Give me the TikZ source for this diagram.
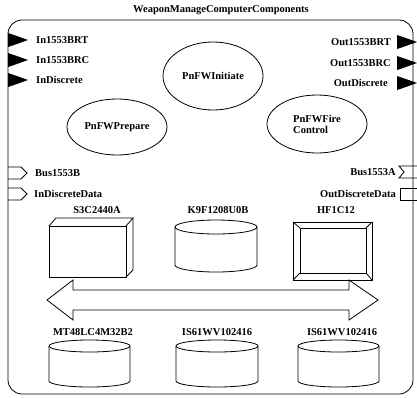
\documentclass[tikz,border=0pt]{standalone}
\usepackage{fontspec}
\setmainfont{Liberation Serif}
\usetikzlibrary{shapes.geometric}
\begin{document}
\begin{tikzpicture}[x=1pt,y=-1pt,
  lbl/.style={font=\fontsize{10.5}{11}\selectfont\bfseries, inner sep=0pt},
  ln/.style={draw=black, line width=0.8pt},
  state/.style={ln, ellipse, lbl, inner sep=0pt},
]
\useasboundingbox (0,0) rectangle (417,397);
\fill[white] (0,0) rectangle (417,397);
\node[lbl] (title) at (221,10) {WeaponManageComputerComponents};
\draw[ln, rounded corners=14pt] (8,20) rectangle (413,394);
% black input ports
\foreach \y in {40,60,80}
  \fill (8,\y-7) -- (14,\y-5) -- (28,\y) -- (14,\y+5) -- (8,\y+7) -- cycle;
\node[lbl, anchor=west] (in1) at (36,40) {In1553BRT};
\node[lbl, anchor=west] (in2) at (36,60) {In1553BRC};
\node[lbl, anchor=west] (in3) at (36,80) {InDiscrete};
% black output ports
\foreach \y in {42,63,83}
  \fill (397,\y-7) -- (403,\y-5) -- (417,\y) -- (403,\y+5) -- (397,\y+7) -- cycle;
\node[lbl, anchor=east] (out1) at (391,42) {Out1553BRT};
\node[lbl, anchor=east] (out2) at (391,63) {Out1553BRC};
\node[lbl, anchor=east] (out3) at (388,83) {OutDiscrete};
% hollow ports
\draw[ln] (8,167) -- (21,167) -- (27,173) -- (21,179) -- (8,179);
\draw[ln] (8,188) -- (21,188) -- (27,194) -- (21,200) -- (8,200);
\node[lbl, anchor=west] (bus1) at (35,173) {Bus1553B};
\node[lbl, anchor=west] (ind) at (34,194) {InDiscreteData};
\draw[ln] (417,166) -- (399,166) -- (404,172) -- (399,178) -- (417,178);
\draw[ln] (417,188) -- (400,188) -- (400,200) -- (417,200);
\node[lbl, anchor=east] (bus2) at (396,172) {Bus1553A};
\node[lbl, anchor=east] (outd) at (396,194) {OutDiscreteData};
% states
\node[state, minimum width=100pt, minimum height=68pt] (init) at (213,76) {PnFWInitiate};
\node[state, minimum width=100pt, minimum height=56pt] (prep) at (117,127) {PnFWPrepare};
\node[state, minimum width=100pt, minimum height=58pt, align=left] (fire) at (317,124) {PnFWFire\\Control};
% components
\node[lbl] (s3c) at (97,210) {S3C2440A};
\node[lbl] (k9f) at (218,210) {K9F1208U0B};
\node[lbl] (hf) at (336,210) {HF1C12};
\draw[ln] (49,226) rectangle (126,277);
\draw[ln] (49,226) -- (56,218) -- (133,218) -- (126,226);
\draw[ln] (126,277) -- (133,270) -- (133,218);
\draw[ln] (216,227) ellipse [x radius=41pt, y radius=7pt];
\draw[ln] (175,227) -- (175,265) arc[start angle=180, end angle=360, x radius=41pt, y radius=7pt] -- (257,227);
\draw[ln] (293,222) rectangle (372,280);
\draw[ln] (300,228) rectangle (366,273);
\draw[ln] (293,222) -- (300,228) (372,222) -- (366,228) (293,280) -- (300,273) (372,280) -- (366,273);
% bus
\draw[ln] (47,300) -- (73,280) -- (73,290) -- (349,290) -- (349,280) -- (378,300) -- (349,320) -- (349,310) -- (73,310) -- (73,320) -- cycle;
% memories
\node[lbl] (mt) at (93,332) {MT48LC4M32B2};
\node[lbl] (is1) at (217,332) {IS61WV102416};
\node[lbl] (is2) at (342,332) {IS61WV102416};
\foreach \cx/\r in {89.5/40.5, 217/41, 338.5/40.5} {
  \draw[ln] (\cx,346) ellipse [x radius=\r pt, y radius=6pt];
  \draw[ln] (\cx-\r,346) -- (\cx-\r,381) arc[start angle=180, end angle=360, x radius=\r pt, y radius=6pt] -- (\cx+\r,346);
}
\end{tikzpicture}
\end{document}
